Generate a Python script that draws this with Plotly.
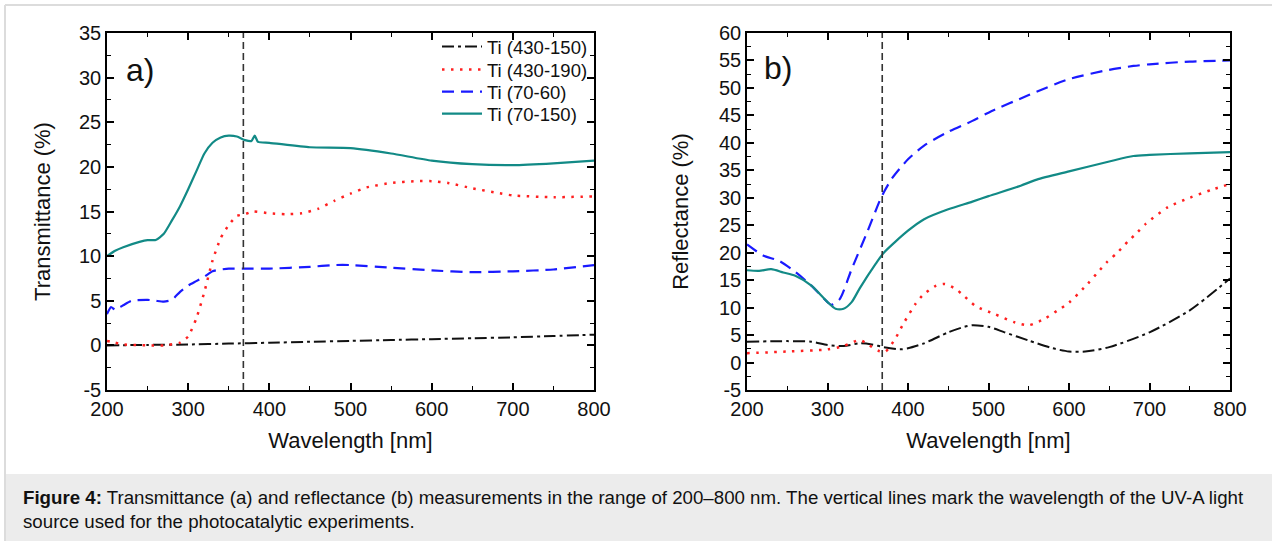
import plotly.graph_objects as go

# ---- data ----
# a) transmittance (%)
t_430_150_nm = [200, 250, 300, 350, 400, 450, 500, 550, 600, 650, 700, 750, 800]
t_430_150 = [0.0, 0.05, 0.1, 0.2, 0.3, 0.4, 0.5, 0.6, 0.7, 0.8, 0.9, 1.05, 1.2]

t_430_190_nm = [200, 210, 220, 250, 270, 290, 300, 310, 320, 330, 340, 350, 360, 370, 380,
                400, 420, 440, 460, 480, 500, 520, 550, 580, 600, 620, 650, 680, 700, 750, 800]
t_430_190 = [0.5, 0.3, 0.1, 0.0, 0.0, 0.3, 1.0, 3.0, 6.0, 9.5, 12.0, 13.5, 14.5, 14.7, 15.0,
             14.8, 14.7, 14.8, 15.3, 16.2, 17.0, 17.7, 18.2, 18.4, 18.4, 18.2, 17.6, 17.1, 16.8, 16.6, 16.7]

t_70_60_nm = [200, 205, 210, 220, 230, 250, 260, 270, 280, 290, 300, 310, 320, 330, 340, 350,
              370, 400, 450, 480, 500, 550, 600, 650, 700, 750, 800]
t_70_60 = [3.5, 4.3, 4.0, 4.5, 5.0, 5.1, 5.0, 4.9, 5.1, 6.0, 6.7, 7.2, 7.7, 8.3, 8.5, 8.6,
           8.6, 8.6, 8.8, 9.0, 9.0, 8.7, 8.4, 8.2, 8.3, 8.5, 9.0]

t_70_150_nm = [200, 210, 220, 240, 250, 260, 270, 280, 290, 300, 310, 320, 330, 340, 350, 360,
               370, 378, 382, 386, 400, 450, 500, 550, 600, 650, 700, 750, 800]
t_70_150 = [10.0, 10.6, 11.0, 11.6, 11.8, 11.8, 12.5, 14.0, 15.6, 17.5, 19.5, 21.5, 22.7, 23.3, 23.5, 23.4,
            23.0, 22.9, 23.5, 22.8, 22.7, 22.2, 22.1, 21.5, 20.7, 20.3, 20.2, 20.4, 20.7]

# b) reflectance (%)
r_430_150_nm = [200, 250, 280, 300, 320, 340, 355, 370, 390, 400, 420, 450, 470, 480, 500,
                520, 550, 580, 600, 620, 650, 700, 750, 800]
r_430_150 = [3.8, 3.9, 3.8, 3.2, 3.0, 3.5, 3.3, 2.8, 2.4, 2.6, 3.5, 5.5, 6.5, 6.8, 6.5,
             5.5, 4.0, 2.6, 2.0, 2.0, 2.8, 5.5, 9.5, 15.3]

r_430_190_nm = [200, 250, 300, 320, 340, 350, 364, 372, 384, 394, 409, 418, 435, 446, 460, 469,
                484, 508, 533, 550, 570, 585, 600, 623, 635, 648, 660, 673, 685, 695, 723, 750, 780, 800]
r_430_190 = [1.7, 2.0, 2.4, 3.0, 4.1, 3.3, 2.1, 2.0, 4.3, 7.0, 10.6, 12.2, 14.0, 14.3, 13.3, 12.2,
             10.3, 8.8, 7.3, 6.8, 8.0, 9.4, 10.9, 14.3, 16.3, 18.4, 20.0, 22.0, 23.7, 25.2, 28.3, 30.0, 31.6, 32.5]

r_70_60_nm = [200, 220, 240, 260, 280, 300, 305, 315, 330, 350, 365, 370, 380, 400, 420, 450,
              480, 500, 550, 600, 650, 680, 700, 750, 800]
r_70_60 = [21.5, 19.5, 18.5, 16.5, 14.0, 11.0, 10.5, 11.5, 17.0, 24.0, 29.5, 31.0, 33.5, 37.0, 39.5, 42.0,
           44.0, 45.5, 48.7, 51.6, 53.3, 54.0, 54.3, 54.8, 55.0]

r_70_150_nm = [200, 215, 230, 245, 260, 280, 300, 310, 320, 330, 340, 360, 370, 400, 420, 450,
               480, 500, 540, 560, 600, 650, 680, 700, 750, 800]
r_70_150 = [16.8, 16.7, 17.0, 16.4, 15.8, 14.0, 11.0, 9.8, 9.8, 11.0, 13.5, 18.0, 20.0, 24.0, 26.1, 27.9,
            29.3, 30.3, 32.2, 33.3, 34.8, 36.6, 37.6, 37.8, 38.1, 38.3]

series_names = ["Ti (430-150)", "Ti (430-190)", "Ti (70-60)", "Ti (70-150)"]
uv_line_nm = 368

# tick labels (plain hyphen for the negative value, as in the figure)
t_ticks = [-5, 0, 5, 10, 15, 20, 25, 30, 35]
r_ticks = [-5, 0, 5, 10, 15, 20, 25, 30, 35, 40, 45, 50, 55, 60]

W, H = 1272, 541
FONT = "Liberation Sans, Arial, sans-serif"

styles = [
    dict(color="#111111", width=2, dash="12px,4px,3px,4px"),
    dict(color="#ff2020", width=2.5, dash="2.5px,6.5px"),
    dict(color="#1a1aff", width=2.2, dash="12px,7px"),
    dict(color="#128a86", width=2.2),
]
legend_ids = ["legend", "legend2", "legend3", "legend4"]
legend_rows = [47, 70, 92, 114]

fig = go.Figure()

left = [(t_430_150_nm, t_430_150), (t_430_190_nm, t_430_190), (t_70_60_nm, t_70_60), (t_70_150_nm, t_70_150)]
right = [(r_430_150_nm, r_430_150), (r_430_190_nm, r_430_190), (r_70_60_nm, r_70_60), (r_70_150_nm, r_70_150)]

for i, (x, y) in enumerate(left):
    fig.add_trace(go.Scatter(x=x, y=y, mode="lines", name=series_names[i],
                             line=dict(styles[i], shape="spline", smoothing=0.5),
                             xaxis="x", yaxis="y", showlegend=True, legend=legend_ids[i]))
for i, (x, y) in enumerate(right):
    fig.add_trace(go.Scatter(x=x, y=y, mode="lines", name=series_names[i],
                             line=dict(styles[i], shape="spline", smoothing=0.7),
                             xaxis="x2", yaxis="y2", showlegend=False))


def px(v):
    return v / W


def py(v):
    return 1 - v / H


axis_common = dict(
    showline=True, linecolor="black", linewidth=1.5, mirror="ticks",
    ticks="inside", ticklen=7, tickwidth=1.5, tickcolor="black",
    showgrid=False, zeroline=False, automargin=False,
    tickfont=dict(family=FONT, size=20, color="#111"),
    title_font=dict(family=FONT, size=22, color="#111"),
    minor=dict(ticks="inside", ticklen=4, tickwidth=1.2, tickcolor="black"),
)

layout = dict(
    width=W, height=H, autosize=False,
    margin=dict(l=0, r=0, t=0, b=0, pad=0),
    paper_bgcolor="white", plot_bgcolor="white",
    font=dict(family=FONT, color="#111"),
    xaxis=dict(axis_common, domain=[px(107), px(594)], range=[200, 800], dtick=100,
               minor_dtick=50, anchor="y", title=dict(text="Wavelength [nm]", standoff=14)),
    yaxis=dict(axis_common, domain=[py(390), py(33)], range=[-5, 35],
               tickvals=t_ticks, ticktext=[str(v) for v in t_ticks],
               minor_dtick=2.5, anchor="x", title=dict(text="Transmittance (%)", standoff=22)),
    xaxis2=dict(axis_common, domain=[px(747), px(1230)], range=[200, 800], dtick=100,
                minor_dtick=50, anchor="y2", title=dict(text="Wavelength [nm]", standoff=14)),
    yaxis2=dict(axis_common, domain=[py(390), py(33)], range=[-5, 60],
                tickvals=r_ticks, ticktext=[str(v) for v in r_ticks],
                minor_dtick=2.5, anchor="x2", title=dict(text="Reflectance (%)", standoff=24)),
    showlegend=True,
)
for lid, row in zip(legend_ids, legend_rows):
    layout[lid] = dict(x=px(437), y=py(row), xanchor="left", yanchor="middle",
                       bgcolor="rgba(0,0,0,0)", font=dict(family=FONT, size=18.5, color="#111"),
                       itemwidth=40, borderwidth=0)
fig.update_layout(layout)

# UV-A lamp marker lines
for xr, yr in [("x", "y domain"), ("x2", "y2 domain")]:
    fig.add_shape(type="line", xref=xr, yref=yr, x0=uv_line_nm, x1=uv_line_nm, y0=0, y1=1,
                  line=dict(color="#333", width=1.6, dash="7px,4px"))

# figure frame and caption box
fig.add_shape(type="line", xref="paper", yref="paper", x0=px(5), x1=1, y0=py(5), y1=py(5),
              line=dict(color="#dcdcdc", width=2))
fig.add_shape(type="line", xref="paper", yref="paper", x0=px(5), x1=px(5), y0=0, y1=py(5),
              line=dict(color="#dcdcdc", width=2))
fig.add_shape(type="rect", xref="paper", yref="paper", x0=px(6), x1=1, y0=0, y1=py(474),
              fillcolor="#ececec", line=dict(width=0), layer="below")

fig.add_annotation(xref="paper", yref="paper", x=px(140), y=py(70), text="a)", showarrow=False,
                   xanchor="center", yanchor="middle",
                   font=dict(family=FONT, size=32, color="#111"))
fig.add_annotation(xref="paper", yref="paper", x=px(778), y=py(68), text="b)", showarrow=False,
                   xanchor="center", yanchor="middle",
                   font=dict(family=FONT, size=32, color="#111"))

fig.add_annotation(xref="paper", yref="paper", x=px(21), y=py(497), xanchor="left", yanchor="middle",
                   showarrow=False, align="left",
                   text="<b>Figure 4:</b> Transmittance (a) and reflectance (b) measurements in the range of "
                        "200\u2013800 nm. The vertical lines mark the wavelength of the UV-A light",
                   font=dict(family=FONT, size=18.7, color="#111"))
fig.add_annotation(xref="paper", yref="paper", x=px(21), y=py(521), xanchor="left", yanchor="middle",
                   showarrow=False, align="left",
                   text="source used for the photocatalytic experiments.",
                   font=dict(family=FONT, size=18.7, color="#111"))

# drop the default page margin so the figure sits at the window's top-left corner
fig.write_html("out.html", config={"displayModeBar": False},
               post_script="document.body.style.margin = '0';")
